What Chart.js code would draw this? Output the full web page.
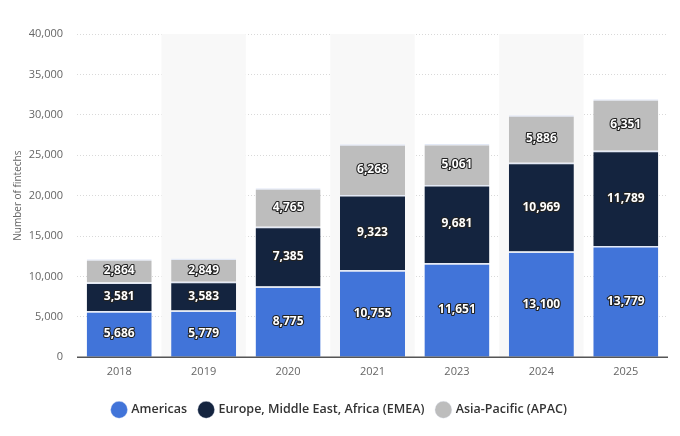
<!DOCTYPE html>
<html>
<head>
<meta charset="utf-8">
<script src="https://cdn.jsdelivr.net/npm/chart.js@4.4.0/dist/chart.umd.min.js"></script>
<style>
  html, body { margin: 0; padding: 0; background: #fff; }
  #wrap { width: 680px; height: 436px; }
</style>
</head>
<body>
<div id="wrap"><canvas id="chart"></canvas></div>
<script>
// Chart data
const years = ['2018', '2019', '2020', '2021', '2023', '2024', '2025'];
const americas = [5686, 5779, 8775, 10755, 11651, 13100, 13779];
const emea = [3581, 3583, 7385, 9323, 9681, 10969, 11789];
const apac = [2864, 2849, 4765, 6268, 5061, 5886, 6351];

// light bands behind every other category
const bandPlugin = {
  id: 'bands',
  beforeDatasetsDraw(chart) {
    const { ctx, chartArea, scales } = chart;
    const x = scales.x;
    const w = (chartArea.right - chartArea.left) / years.length;
    ctx.save();
    ctx.fillStyle = '#f8f8f8';
    for (let i = 1; i < years.length; i += 2) {
      const cx = x.getPixelForValue(i);
      ctx.fillRect(cx - w / 2, chartArea.top, w, chartArea.bottom - chartArea.top);
    }
    ctx.restore();
  }
};

// value labels in the middle of each segment, plus the baseline on top of bars
const labelPlugin = {
  id: 'segLabels',
  afterDatasetsDraw(chart) {
    const { ctx, chartArea } = chart;
    ctx.save();
    ctx.strokeStyle = '#555';
    ctx.lineWidth = 1.5;
    ctx.beginPath();
    ctx.moveTo(chartArea.left, chartArea.bottom);
    ctx.lineTo(chartArea.right, chartArea.bottom);
    ctx.stroke();

    ctx.font = 'bold 12px "Open Sans", sans-serif';
    ctx.textAlign = 'center';
    ctx.textBaseline = 'middle';
    ctx.lineJoin = 'round';
    chart.data.datasets.forEach((ds, di) => {
      const meta = chart.getDatasetMeta(di);
      meta.data.forEach((bar, i) => {
        const txt = ds.data[i].toLocaleString('en-US');
        const y = (bar.y + bar.base) / 2;
        ctx.lineWidth = 2.2;
        ctx.strokeStyle = '#222';
        ctx.strokeText(txt, bar.x, y);
        ctx.fillStyle = '#ffffff';
        ctx.fillText(txt, bar.x, y);
      });
    });
    ctx.restore();
  }
};

new Chart(document.getElementById('chart'), {
  type: 'bar',
  data: {
    labels: years,
    datasets: [
      { label: 'Americas', data: americas, backgroundColor: '#4174d9' },
      { label: 'Europe, Middle East, Africa (EMEA)', data: emea, backgroundColor: '#14243f' },
      { label: 'Asia-Pacific (APAC)', data: apac, backgroundColor: '#bdbdbd' }
    ].map(d => Object.assign(d, {
      borderColor: '#e3e9f6',
      borderWidth: { top: 1.5, bottom: 0, left: 0, right: 0 },
      borderSkipped: false,
      categoryPercentage: 1,
      barPercentage: 0.77
    }))
  },
  options: {
    responsive: true,
    maintainAspectRatio: false,
    animation: false,
    layout: { padding: { top: 34, right: 12, left: 12, bottom: 10 } },
    scales: {
      x: {
        stacked: true,
        afterFit: scale => { scale.height += 4; },
        grid: { display: false, drawTicks: false },
        border: { display: false },
        ticks: { color: '#666', font: { family: 'Open Sans', size: 11 }, padding: 8 }
      },
      y: {
        stacked: true,
        min: 0,
        max: 40000,
        afterFit: scale => { scale.width = 65; },
        grid: { color: '#d9d9d9', drawTicks: false, lineWidth: 1 },
        border: { display: false, dash: [1, 2] },
        ticks: {
          stepSize: 5000,
          color: '#666',
          padding: 14,
          font: { family: 'Open Sans', size: 11 },
          callback: v => v.toLocaleString('en-US')
        },
        title: {
          display: true,
          text: 'Number of fintechs',
          color: '#666',
          font: { family: 'Open Sans', size: 10 },
          padding: { top: 0, bottom: 0 }
        }
      }
    },
    plugins: {
      legend: {
        position: 'bottom',
        labels: {
          usePointStyle: true,
          pointStyle: 'circle',
          boxWidth: 12,
          boxHeight: 12,
          padding: 13,
          color: '#333',
          font: { family: 'Open Sans', size: 12.5, weight: '600' }
        }
      },
      tooltip: { enabled: false }
    }
  },
  plugins: [bandPlugin, labelPlugin]
});
</script>
</body>
</html>
